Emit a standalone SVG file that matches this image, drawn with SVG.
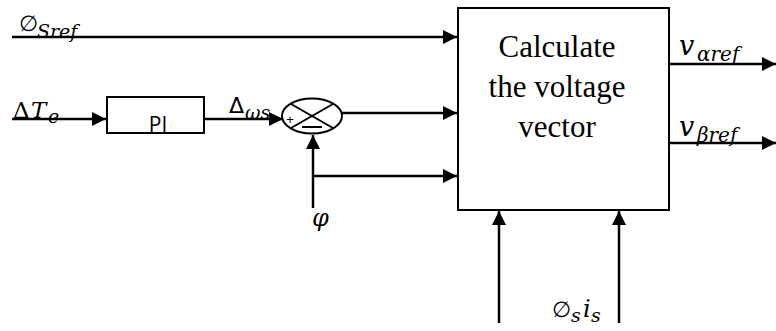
<svg xmlns="http://www.w3.org/2000/svg" width="776" height="331" viewBox="0 0 776 331">
<style>
.ln{stroke:#000;stroke-width:2.5;fill:none}
.bx{stroke:#000;stroke-width:2;fill:#fff}
.mi{font-family:"DejaVu Serif",serif;font-style:italic}
</style>
<defs>
<marker id="ah" viewBox="0 0 10 10" refX="10" refY="5" markerWidth="5.6" markerHeight="5.6" markerUnits="strokeWidth" orient="auto">
<path d="M0,0 L10,5 L0,10 z" fill="#000"/>
</marker>
</defs>
<g id="connectors">
<line class="ln" x1="12" y1="37" x2="457" y2="37" marker-end="url(#ah)"/>
<line class="ln" x1="12" y1="119" x2="106" y2="119" marker-end="url(#ah)"/>
<line class="ln" x1="204" y1="119" x2="283" y2="119" marker-end="url(#ah)"/>
<line class="ln" x1="342" y1="113" x2="457" y2="113" marker-end="url(#ah)"/>
<line class="ln" x1="313" y1="208" x2="313" y2="135" marker-end="url(#ah)"/>
<line class="ln" x1="313" y1="176" x2="457" y2="176" marker-end="url(#ah)"/>
<line class="ln" x1="669" y1="64" x2="776" y2="64" marker-end="url(#ah)"/>
<line class="ln" x1="669" y1="143" x2="776" y2="143" marker-end="url(#ah)"/>
<line class="ln" x1="499" y1="323" x2="499" y2="211" marker-end="url(#ah)"/>
<line class="ln" x1="619" y1="323" x2="619" y2="211" marker-end="url(#ah)"/>
</g>
<g id="pi">
<rect class="bx" x="107" y="97" width="97" height="36"/>
<text x="158" y="132" font-family="'Open Sans','Liberation Sans',sans-serif" font-size="21" text-anchor="middle">PI</text>
</g>
<g id="sum">
<ellipse class="bx" cx="312" cy="116" rx="30" ry="17.5"/>
<line stroke="#000" stroke-width="2" x1="291" y1="104" x2="333" y2="128"/>
<line stroke="#000" stroke-width="2" x1="291" y1="128" x2="333" y2="104"/>
<text x="290" y="124" font-family="'Liberation Sans',sans-serif" font-size="13" text-anchor="middle">+</text>
<line stroke="#000" stroke-width="2" x1="302" y1="127" x2="322" y2="127"/>
</g>
<g id="calc">
<rect class="bx" x="458" y="8" width="211" height="202"/>
<g font-family="'Liberation Serif','Times New Roman',serif" font-size="31" text-anchor="middle">
<text x="557" y="57">Calculate</text>
<text x="557" y="97">the voltage</text>
<text x="557" y="137">vector</text>
</g>
</g>
<g id="labels">
<text x="19" y="31" font-family="'DejaVu Sans',sans-serif" font-size="22">∅</text>
<text class="mi" x="37" y="38" font-size="19">Sref</text>
<text x="13" y="118" font-family="'DejaVu Serif',serif" font-size="23">Δ</text>
<text class="mi" x="31" y="118" font-size="23">T</text>
<text class="mi" x="48" y="123" font-size="19">e</text>
<text x="229" y="113" font-family="'DejaVu Sans',sans-serif" font-size="22">Δ</text>
<text class="mi" x="245" y="119" font-size="19">ωs</text>
<text class="mi" x="312" y="226" font-size="24">φ</text>
<text class="mi" x="679" y="55" font-size="27">v</text>
<text class="mi" x="697" y="61" font-size="20">αref</text>
<text class="mi" x="679" y="136" font-size="27">v</text>
<text class="mi" x="697" y="142" font-size="20">βref</text>
<text x="552" y="317" font-family="'DejaVu Sans',sans-serif" font-size="22">∅</text>
<text class="mi" x="571" y="322" font-size="19">s</text>
<text class="mi" x="583" y="317" font-size="24">i</text>
<text class="mi" x="591" y="322" font-size="19">s</text>
</g>
</svg>
